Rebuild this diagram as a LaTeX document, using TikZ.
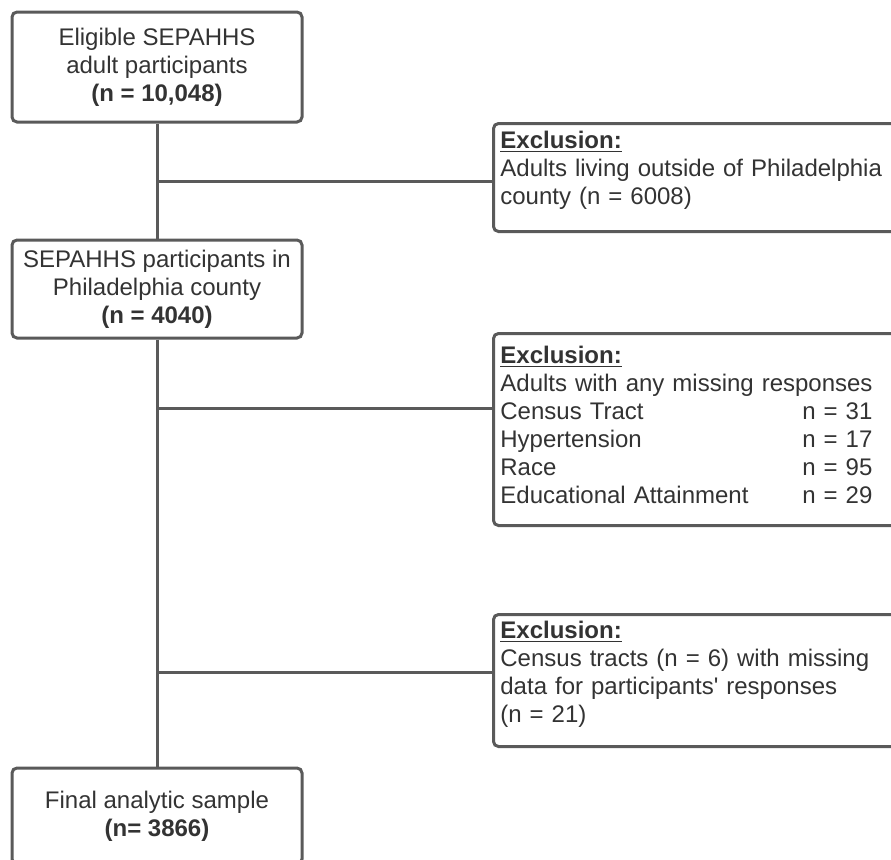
\documentclass[tikz,border=0pt]{standalone}
\usepackage{fontspec}
\setmainfont{Liberation Sans}
\usetikzlibrary{positioning}
\definecolor{boxline}{HTML}{5A5A5A}
\definecolor{boxtext}{HTML}{333333}
\newcommand{\flowfont}{\fontsize{12pt}{14pt}\selectfont}
\newcommand{\exrow}[2]{\makebox[151pt][l]{#1}#2}

\begin{document}
\begin{tikzpicture}[x=0.5pt, y=-0.5pt,
    every node/.style={font=\flowfont, text=boxtext},
    stage/.style={rectangle, rounded corners=2.5pt, draw=boxline, line width=1.5pt, fill=white, minimum width=145pt, align=center},
    exbox/.style={rectangle, rounded corners=2.5pt, draw=boxline, line width=1.5pt, fill=white, minimum width=210pt, anchor=north west},
    extext/.style={anchor=base west, inner sep=0pt, text width=200pt, align=left},
    link/.style={draw=boxline, line width=1.5pt}
]
    \path[use as bounding box, clip] (0,0) rectangle (891,859);

    % Stages
    \node[stage, minimum height=55pt] (elig) at (157,67) {Eligible SEPAHHS\\adult participants\\\textbf{(n = 10,048)}};
    \node[stage, minimum height=49pt] (phil) at (157,289) {SEPAHHS participants in\\Philadelphia county\\\textbf{(n = 4040)}};
    \node[stage, minimum height=48pt] (final) at (157,816) {Final analytic sample\\\textbf{(n= 3866)}};

    % Exclusion boxes
    \node[exbox, minimum height=54pt] (exA) at (492,122) {};
    \node[extext] (exAtext) at (500,148) {\underline{\textbf{Exclusion:}}\\Adults living outside of Philadelphia\\county (n = 6008)};

    \node[exbox, minimum height=96pt] (exB) at (492,332) {};
    \node[extext] (exBtext) at (500,363) {\underline{\textbf{Exclusion:}}\\Adults with any missing responses\\
        \exrow{Census Tract}{n = 31}\\
        \exrow{Hypertension}{n = 17}\\
        \exrow{Race}{n = 95}\\
        \exrow{Educational Attainment}{n = 29}};

    \node[exbox, minimum height=66pt] (exC) at (492,613) {};
    \node[extext] (exCtext) at (500,638) {\underline{\textbf{Exclusion:}}\\Census tracts (n = 6) with missing\\data for participants\textquotesingle{} responses\\(n = 21)};

    % Connections
    \coordinate (jA) at (157,181);
    \coordinate (jB) at (157,408);
    \coordinate (jC) at (157,672);
    \draw[link] (elig) -- (phil);
    \draw[link] (phil) -- (final);
    \draw[link] (jA) -- (jA -| exA.west);
    \draw[link] (jB) -- (jB -| exB.west);
    \draw[link] (jC) -- (jC -| exC.west);
\end{tikzpicture}
\end{document}
